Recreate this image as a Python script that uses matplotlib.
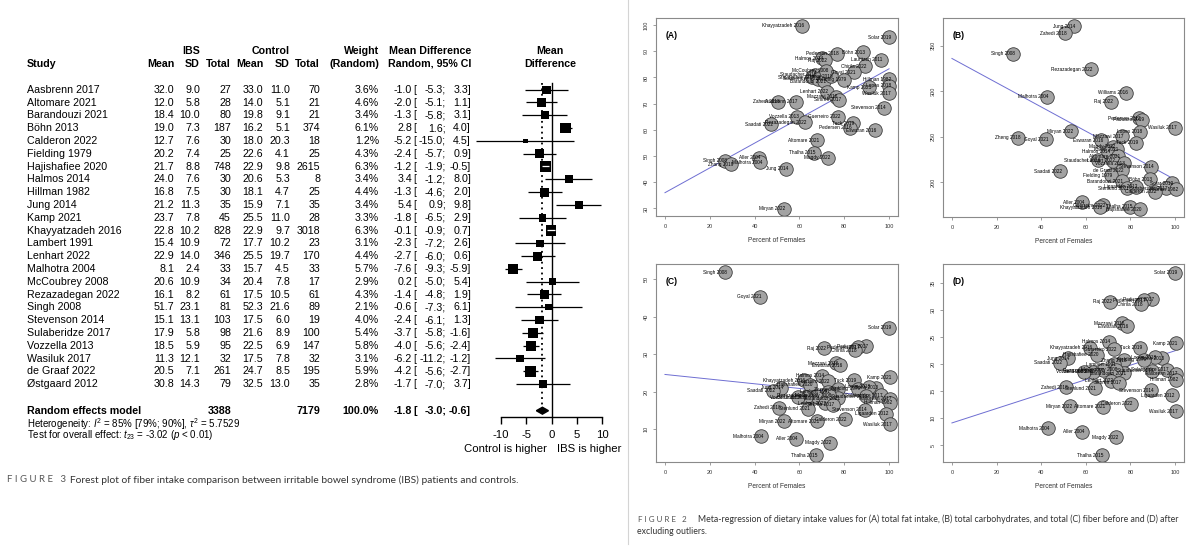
import numpy as np
import matplotlib.pyplot as plt
from matplotlib.lines import Line2D

plt.rcParams['font.family'] = ['Liberation Sans', 'DejaVu Sans']
plt.rcParams['mathtext.fontset'] = 'custom'
plt.rcParams['mathtext.rm'] = 'Liberation Sans'
plt.rcParams['mathtext.it'] = 'Liberation Sans:italic'
plt.rcParams['mathtext.bf'] = 'Liberation Sans:bold'

# ---------------- forest plot data (Figure 3) ----------------
studies = ["Aasbrenn 2017", "Altomare 2021", "Barandouzi 2021", "Böhn 2013", "Calderon 2022",
           "Fielding 1979", "Hajishafiee 2020", "Halmos 2014", "Hillman 1982", "Jung 2014",
           "Kamp 2021", "Khayyatzadeh 2016", "Lambert 1991", "Lenhart 2022", "Malhotra 2004",
           "McCoubrey 2008", "Rezazadegan 2022", "Singh 2008", "Stevenson 2014",
           "Sulaberidze 2017", "Vozzella 2013", "Wasiluk 2017", "de Graaf 2022", "Østgaard 2012"]
ibs_mean = [32.0, 12.0, 18.4, 19.0, 12.7, 20.2, 21.7, 24.0, 16.8, 21.2, 23.7, 22.8, 15.4, 22.9,
            8.1, 20.6, 16.1, 51.7, 15.1, 17.9, 18.5, 11.3, 20.5, 30.8]
ibs_sd = [9.0, 5.8, 10.0, 7.3, 7.6, 7.4, 8.8, 7.6, 7.5, 11.3, 7.8, 10.2, 10.9, 14.0,
          2.4, 10.9, 8.2, 23.1, 13.1, 5.8, 5.9, 12.1, 7.1, 14.3]
ibs_n = [27, 28, 80, 187, 30, 25, 748, 30, 30, 35, 45, 828, 72, 346, 33, 34, 61, 81, 103, 98,
         95, 32, 261, 79]
ctl_mean = [33.0, 14.0, 19.8, 16.2, 18.0, 22.6, 22.9, 20.6, 18.1, 15.9, 25.5, 22.9, 17.7, 25.5,
            15.7, 20.4, 17.5, 52.3, 17.5, 21.6, 22.5, 17.5, 24.7, 32.5]
ctl_sd = [11.0, 5.1, 9.1, 5.1, 20.3, 4.1, 9.8, 5.3, 4.7, 7.1, 11.0, 9.7, 10.2, 19.7,
          4.5, 7.8, 10.5, 21.6, 6.0, 8.9, 6.9, 7.8, 8.5, 13.0]
ctl_n = [70, 21, 21, 374, 18, 25, 2615, 8, 25, 35, 28, 3018, 23, 170, 33, 17, 61, 89, 19, 100,
         147, 32, 195, 35]
weight = [3.6, 4.6, 3.4, 6.1, 1.2, 4.3, 6.3, 3.4, 4.4, 3.4, 3.3, 6.3, 3.1, 4.4, 5.7, 2.9, 4.3,
          2.1, 4.0, 5.4, 5.8, 3.1, 5.9, 2.8]
md = [-1.0, -2.0, -1.3, 2.8, -5.2, -2.4, -1.2, 3.4, -1.3, 5.4, -1.8, -0.1, -2.3, -2.7, -7.6,
      0.2, -1.4, -0.6, -2.4, -3.7, -4.0, -6.2, -4.2, -1.7]
md_lo = [-5.3, -5.1, -5.8, 1.6, -15.0, -5.7, -1.9, -1.2, -4.6, 0.9, -6.5, -0.9, -7.2, -6.0, -9.3,
         -5.0, -4.8, -7.3, -6.1, -5.8, -5.6, -11.2, -5.6, -7.0]
md_hi = [3.3, 1.1, 3.1, 4.0, 4.5, 0.9, -0.5, 8.0, 2.0, 9.8, 2.9, 0.7, 2.6, 0.6, -5.9, 5.4, 1.9,
         6.1, 1.3, -1.6, -2.4, -1.2, -2.7, 3.7]
pooled_n_ibs, pooled_n_ctl = 3388, 7179
pooled_md, pooled_lo, pooled_hi = -1.8, -3.0, -0.6
md_ticks = [-10, -5, 0, 5, 10]

# ---------------- meta-regression data (Figure 2) ----------------
fat_names = ["Khayyatzadeh 2016", "Solar 2019", "Böhn 2013", "Pedersen 2018", "Halmos 2014",
             "Raj 2022", "Lauritzen 2011", "Chirila 2022", "Goyal 2021", "Hillman 1982",
             "Lopes 2018", "Wasiluk 2017", "Kamp 2021", "Fielding 1979", "Staudacher 2016",
             "Staudacher 2017", "Sulaberidze 2017", "Barandouzi 2021", "Zheng 2018",
             "McCoubrey 2008", "Lenhart 2022", "Mazzawi 2016", "Simrén 2017", "Stevenson 2014",
             "Zahedi 2018", "Aasbrenn 2017", "Vozzella 2013", "Guerreiro 2022",
             "Rezazadegan 2022", "Saadati 2022", "Tuck 2019", "Pedersen 2016", "Eswaran 2016",
             "Altomare 2021", "Thalha 2015", "Magdy 2022", "Singh 2008", "Zhang 2019",
             "Aller 2004", "Malhotra 2004", "Jung 2014", "Miryan 2022"]
fat_pct = [61.3, 100, 88.5, 76.6, 69.9, 71.5, 96.3, 89.2, 84.3, 100, 100, 100, 91.2, 80, 66.9,
           65.8, 68.5, 71, 74, 72, 72.1, 76.3, 77.7, 97.9, 50.4, 58.4, 59.1, 77.3, 62.4, 47.5,
           83.7, 82.5, 93.7, 67.9, 66.5, 72.8, 26.9, 29.6, 41.9, 42.5, 54.2, 53]
fat_val = [99.8, 95.3, 89.7, 89.0, 87.4, 86.5, 86.8, 84.2, 81.9, 79.4, 76.8, 74.0, 76.3, 79.1,
           81.0, 80.1, 79.5, 78.5, 80.5, 82.5, 74.6, 72.7, 71.4, 68.5, 70.8, 70.8, 65.0, 65.0,
           62.9, 62.2, 62.5, 60.8, 59.9, 56.1, 51.2, 49.4, 48.2, 46.8, 49.4, 47.6, 45.2, 29.9]

carb_names = ["Jung 2014", "Zahedi 2018", "Singh 2008", "Rezazadegan 2022", "Williams 2016",
              "Malhotra 2004", "Raj 2022", "Pedersen 2012", "Paduano 2019", "Wasiluk 2017",
              "Lopes 2018", "Miryan 2022", "Zheng 2018", "Goyal 2021", "Mazzawi 2017",
              "Eswaran 2016", "Tuck 2019", "Magdy 2022", "Kamp 2021", "Halmos 2014",
              "Altomare 2021", "Staudacher 2016", "Lenhart 2022", "Vozzella 2013",
              "Stevenson 2014", "de Graaf 2022", "Saadati 2022", "Fielding 1979", "Böhn 2013",
              "Barandouzi 2021", "Solar 2019", "Sulaberidze 2017", "Hillman 1982",
              "Calderon 2022", "Stenlund 2021", "Ligaarden 2012", "Aller 2004",
              "Guerreiro 2022", "Khayyatzadeh 2016", "Thalha 2015", "Hajishafiee 2020"]
carb_pct = [54.5, 50.6, 27.5, 62.2, 78.2, 42.6, 71.2, 83.7, 85.2, 100, 84.3, 53.3, 29.8, 42.3,
            76.2, 66.8, 82.5, 72.3, 73.8, 70.1, 74.6, 65.6, 72.3, 76.9, 89.4, 76.0, 48.5, 71.2,
            88.8, 76, 98.4, 95.8, 100.4, 91, 78.3, 82.5, 58.4, 67.9, 66.4, 79.9, 84.3]
carb_val = [371.6, 363.6, 340.9, 324.4, 298.4, 294, 288.5, 270.3, 269, 260, 255.6, 256.3, 249,
            247.2, 250.8, 246.4, 243.5, 239.1, 236.2, 233.6, 228.9, 224.5, 223.7, 220.9, 217.1,
            213.5, 212.4, 208, 203.3, 201.4, 198.9, 193.4, 192.3, 189.7, 193.4, 195.2, 178,
            175.1, 172.5, 173.2, 170.7]

fiber_names = ["Singh 2008", "Goyal 2021", "Solar 2019", "Paduano 2017", "Pedersen 2017",
               "Chirila 2018", "Raj 2022", "Mazzawi 2016", "Eswaran 2016", "Halmos 2014",
               "Kamp 2021", "Tuck 2019", "Guerreiro 2022", "Khayyatzadeh 2016",
               "Hajishafiee 2020", "Böhn 2013", "Lopes 2018", "Fielding 1979", "Zheng 2018",
               "Jung 2014", "Saadati 2022", "Lambert 1991", "Sulaberidze 2017", "Aasbrenn 2017",
               "Hillman 1982", "Staudacher 2016", "Barandouzi 2021", "McCoubrey 2008",
               "Rezazadegan 2022", "de Graaf 2022", "Vozzella 2013", "Lenhart 2022",
               "Simrén 2017", "Zahedi 2018", "Stenlund 2021", "Stevenson 2014",
               "Ligaarden 2012", "Miryan 2022", "Altomare 2021", "Calderon 2022",
               "Wasiluk 2017", "Malhotra 2004", "Aller 2004", "Magdy 2022", "Thalha 2015"]
fiber_pct = [27, 42.2, 100, 89.6, 86.1, 84.6, 70.9, 76.4, 78.3, 70.2, 100.3, 84.3, 72.7, 61.9,
             64.9, 94.3, 90.9, 86.1, 77.3, 51.8, 48.4, 72.7, 96.3, 100.3, 100.6, 89.6, 77.3,
             73.4, 67.5, 63, 59.3, 71.2, 74.9, 51.0, 63.9, 89.4, 98.8, 53, 67.9, 80.2, 100.3,
             42.9, 58.5, 73.6, 67.2]
fiber_val = [51.8, 45.3, 37.0, 32.1, 31.9, 31.1, 31.6, 27.6, 27.0, 24.2, 23.9, 23.1, 22.8, 23.1,
             21.8, 21.1, 21.3, 20.8, 20.7, 21.1, 20.3, 20.0, 19.0, 18.2, 17.1, 18.8, 18.3, 19.0,
             18.9, 18.6, 18.6, 16.9, 16.6, 15.7, 15.5, 15.2, 14.2, 12.2, 12.1, 12.7, 11.3, 8.1,
             7.5, 6.4, 3.1]
fiber_outliers = ["Singh 2008", "Goyal 2021"]

# fitted meta-regression lines: intercept, slope per panel
reg_fit = {"A": (36.0, 0.473), "B": (336.0, -1.33), "C": (24.6, -0.062), "D": (9.1, 0.134)}

W, H = 1200, 549
fig = plt.figure(figsize=(W / 100, H / 100), dpi=100)


def box(x0, y0, x1, y1):
    # pixel box (top-left origin) -> figure fraction
    return [x0 / W, 1 - y1 / H, (x1 - x0) / W, (y1 - y0) / H]


# row layout of the forest plot
ROW0, ROWH = 89.7, 12.8


def ry(ypix):
    return (ypix - ROW0) / ROWH


tab = fig.add_axes(box(0, 0, 620, H))
tab.set_xlim(0, 620)
tab.set_ylim(ry(H), ry(0))
tab.axis('off')

fs = 7.7
hdr = dict(fontsize=fs, fontweight='bold', va='center')
tab.text(191, ry(51), "IBS", ha='center', **hdr)
tab.text(271, ry(51), "Control", ha='center', **hdr)
tab.text(379, ry(51), "Weight", ha='right', **hdr)
tab.text(471, ry(51), "Mean Difference", ha='right', **hdr)
tab.text(550, ry(51), "Mean", ha='center', **hdr)
tab.text(27, ry(64), "Study", ha='left', **hdr)
for xr, lab in [(174, "Mean"), (200, "SD"), (231, "Total"), (263, "Mean"), (290, "SD"),
                (320, "Total"), (379, "(Random)"), (471, "Random, 95% CI")]:
    tab.text(xr, ry(64), lab, ha='right', **hdr)
tab.text(550, ry(64), "Difference", ha='center', **hdr)

cell = dict(fontsize=fs, va='center')
for i, name in enumerate(studies):
    tab.text(27, i, name, ha='left', **cell)
    tab.text(174, i, f"{ibs_mean[i]:.1f}", ha='right', **cell)
    tab.text(200, i, f"{ibs_sd[i]:.1f}", ha='right', **cell)
    tab.text(231, i, f"{ibs_n[i]}", ha='right', **cell)
    tab.text(263, i, f"{ctl_mean[i]:.1f}", ha='right', **cell)
    tab.text(290, i, f"{ctl_sd[i]:.1f}", ha='right', **cell)
    tab.text(320, i, f"{ctl_n[i]}", ha='right', **cell)
    tab.text(379, i, f"{weight[i]:.1f}%", ha='right', **cell)
    tab.text(412, i, f"{md[i]:.1f}", ha='right', **cell)
    tab.text(413, i, "[", ha='left', **cell)
    tab.text(446, i, f"{md_lo[i]:.1f};", ha='right', **cell)
    tab.text(471, i, f"{md_hi[i]:.1f}]", ha='right', **cell)

prow = ry(410.7)
bold = dict(fontsize=fs, va='center', fontweight='bold')
tab.text(27, prow, "Random effects model", ha='left', **bold)
tab.text(231, prow, f"{pooled_n_ibs}", ha='right', **bold)
tab.text(320, prow, f"{pooled_n_ctl}", ha='right', **bold)
tab.text(379, prow, "100.0%", ha='right', **bold)
tab.text(412, prow, f"{pooled_md:.1f}", ha='right', **bold)
tab.text(413, prow, "[", ha='left', **bold)
tab.text(446, prow, f"{pooled_lo:.1f};", ha='right', **bold)
tab.text(471, prow, f"{pooled_hi:.1f}]", ha='right', **bold)
tab.text(27, ry(424), r"Heterogeneity: $I^2$ = 85% [79%; 90%], $\tau^2$ = 5.7529",
         ha='left', va='center', fontsize=7.0)
tab.text(27, ry(435), r"Test for overall effect: $t_{23}$ = -3.02 ($p$ < 0.01)",
         ha='left', va='center', fontsize=7.0)
tab.text(547, ry(449.5), "Control is higher", ha='right', va='center', fontsize=8.2)
tab.text(557, ry(449.5), "IBS is higher", ha='left', va='center', fontsize=8.2)

# forest graphic
PX_PER_UNIT = 5.05
X0 = 551.5
fst = fig.add_axes(box(470, 0, 620, 417))
fst.set_xlim((470 - X0) / PX_PER_UNIT, (620 - X0) / PX_PER_UNIT)
fst.set_ylim(ry(417), ry(0))
fst.patch.set_visible(False)
for s in ['top', 'right', 'left']:
    fst.spines[s].set_visible(False)
fst.spines['bottom'].set_bounds(md_ticks[0], md_ticks[-1])
fst.spines['bottom'].set_linewidth(1.0)
fst.set_xticks(md_ticks)
fst.set_xticklabels([str(t) for t in md_ticks])
fst.tick_params(axis='x', direction='out', length=5, width=1.0, labelsize=8.2, pad=4)
fst.set_yticks([])

rows = np.arange(len(studies))
fst.plot([0, 0], [ry(83), ry(417)], color='black', lw=1.0, zorder=1)
fst.plot([pooled_md, pooled_md], [ry(83), prow - 0.2], color='black', lw=1.3,
         linestyle=(0, (1, 2)), zorder=1)
fst.hlines(rows, md_lo, md_hi, color='black', lw=0.9, zorder=2)
sq = 9.6 * np.array(weight)
fst.scatter(md, rows, s=sq, marker='s', color='black', zorder=3, linewidths=0)
side_units = np.sqrt(sq) * 100 / 72 / PX_PER_UNIT
for i in rows:
    if md_hi[i] - md_lo[i] < side_units[i]:
        fst.hlines(i, md_lo[i], md_hi[i], color='white', lw=0.9, zorder=4)
dh = 0.27
fst.fill([pooled_lo, pooled_md, pooled_hi, pooled_md],
         [prow, prow - dh, prow, prow + dh], color='black', zorder=3)

# captions
fig.text(7 / W, 1 - 480 / H, "F I G U R E   3", fontsize=6.9, color='#555555',
         family='Lato', va='center')
fig.text(70 / W, 1 - 480 / H,
         "Forest plot of fiber intake comparison between irritable bowel syndrome (IBS) patients and controls.",
         fontsize=7.4, color='#333333', family='Lato', va='center')
fig.text(638 / W, 1 - 519 / H, "F I G U R E   2", fontsize=5.8, color='#555555',
         family='Lato', va='center')
fig.text(698 / W, 1 - 519 / H,
         "Meta-regression of dietary intake values for (A) total fat intake, (B) total carbohydrates, and total (C) fiber before and (D) after",
         fontsize=6.35, color='#333333', family='Lato', va='center')
fig.text(637 / W, 1 - 532 / H, "excluding outliers.", fontsize=6.35, color='#333333',
         family='Lato', va='center')

fig.add_artist(Line2D([628 / W, 628 / W], [0.01, 1], color='#d4d4d4', lw=0.8))


def meta_panel(ax, names, pct, val, key, ylim, yticks):
    icpt, slope = reg_fit[key]
    xs = np.array([0, 100])
    ax.plot(xs, icpt + slope * xs, color='#6e6ed2', lw=0.7, zorder=1)
    ax.scatter(pct, val, s=95, facecolor='#a3a3a3', edgecolor='#3c3c3c', linewidths=0.6,
               zorder=2)
    for n, x, y in zip(names, pct, val):
        ax.text(x + 0.8, y, n, fontsize=3.4, ha='right', va='center', zorder=3)
    ax.set_xlim(-4, 104)
    ax.set_ylim(*ylim)
    ax.set_xticks(range(0, 101, 20))
    ax.set_yticks(yticks)
    ax.tick_params(labelsize=4, length=2.5, width=0.5, color='#777777', labelcolor='#333333',
                   pad=3)
    for lab in ax.get_yticklabels():
        lab.set_rotation(90)
        lab.set_va('center')
    for s in ax.spines.values():
        s.set_color('#8a8a8a')
        s.set_linewidth(0.8)
    ax.set_xlabel("Percent of Females", fontsize=4.8, color='#333333', labelpad=6)
    ax.text(0.04, 0.91, f"({key})", transform=ax.transAxes, fontsize=6.2,
            fontweight='bold', va='center', ha='left')


axA = fig.add_axes(box(656, 18, 898, 216))
meta_panel(axA, fat_names, fat_pct, fat_val, "A", (27.1, 102.7), range(30, 101, 10))
axB = fig.add_axes(box(943, 18, 1184, 217))
meta_panel(axB, carb_names, carb_pct, carb_val, "B", (162.0, 380.4), [200, 250, 300, 350])
axC = fig.add_axes(box(656, 264, 898, 462))
meta_panel(axC, fiber_names, fiber_pct, fiber_val, "C", (1.3, 54.0), range(10, 51, 10))
keep = [i for i, n in enumerate(fiber_names) if n not in fiber_outliers]
axD = fig.add_axes(box(943, 264, 1184, 462))
meta_panel(axD, [fiber_names[i] for i in keep], [fiber_pct[i] for i in keep],
           [fiber_val[i] for i in keep], "D", (1.85, 38.6), range(5, 36, 5))

fig.savefig("out.png", dpi=100)
